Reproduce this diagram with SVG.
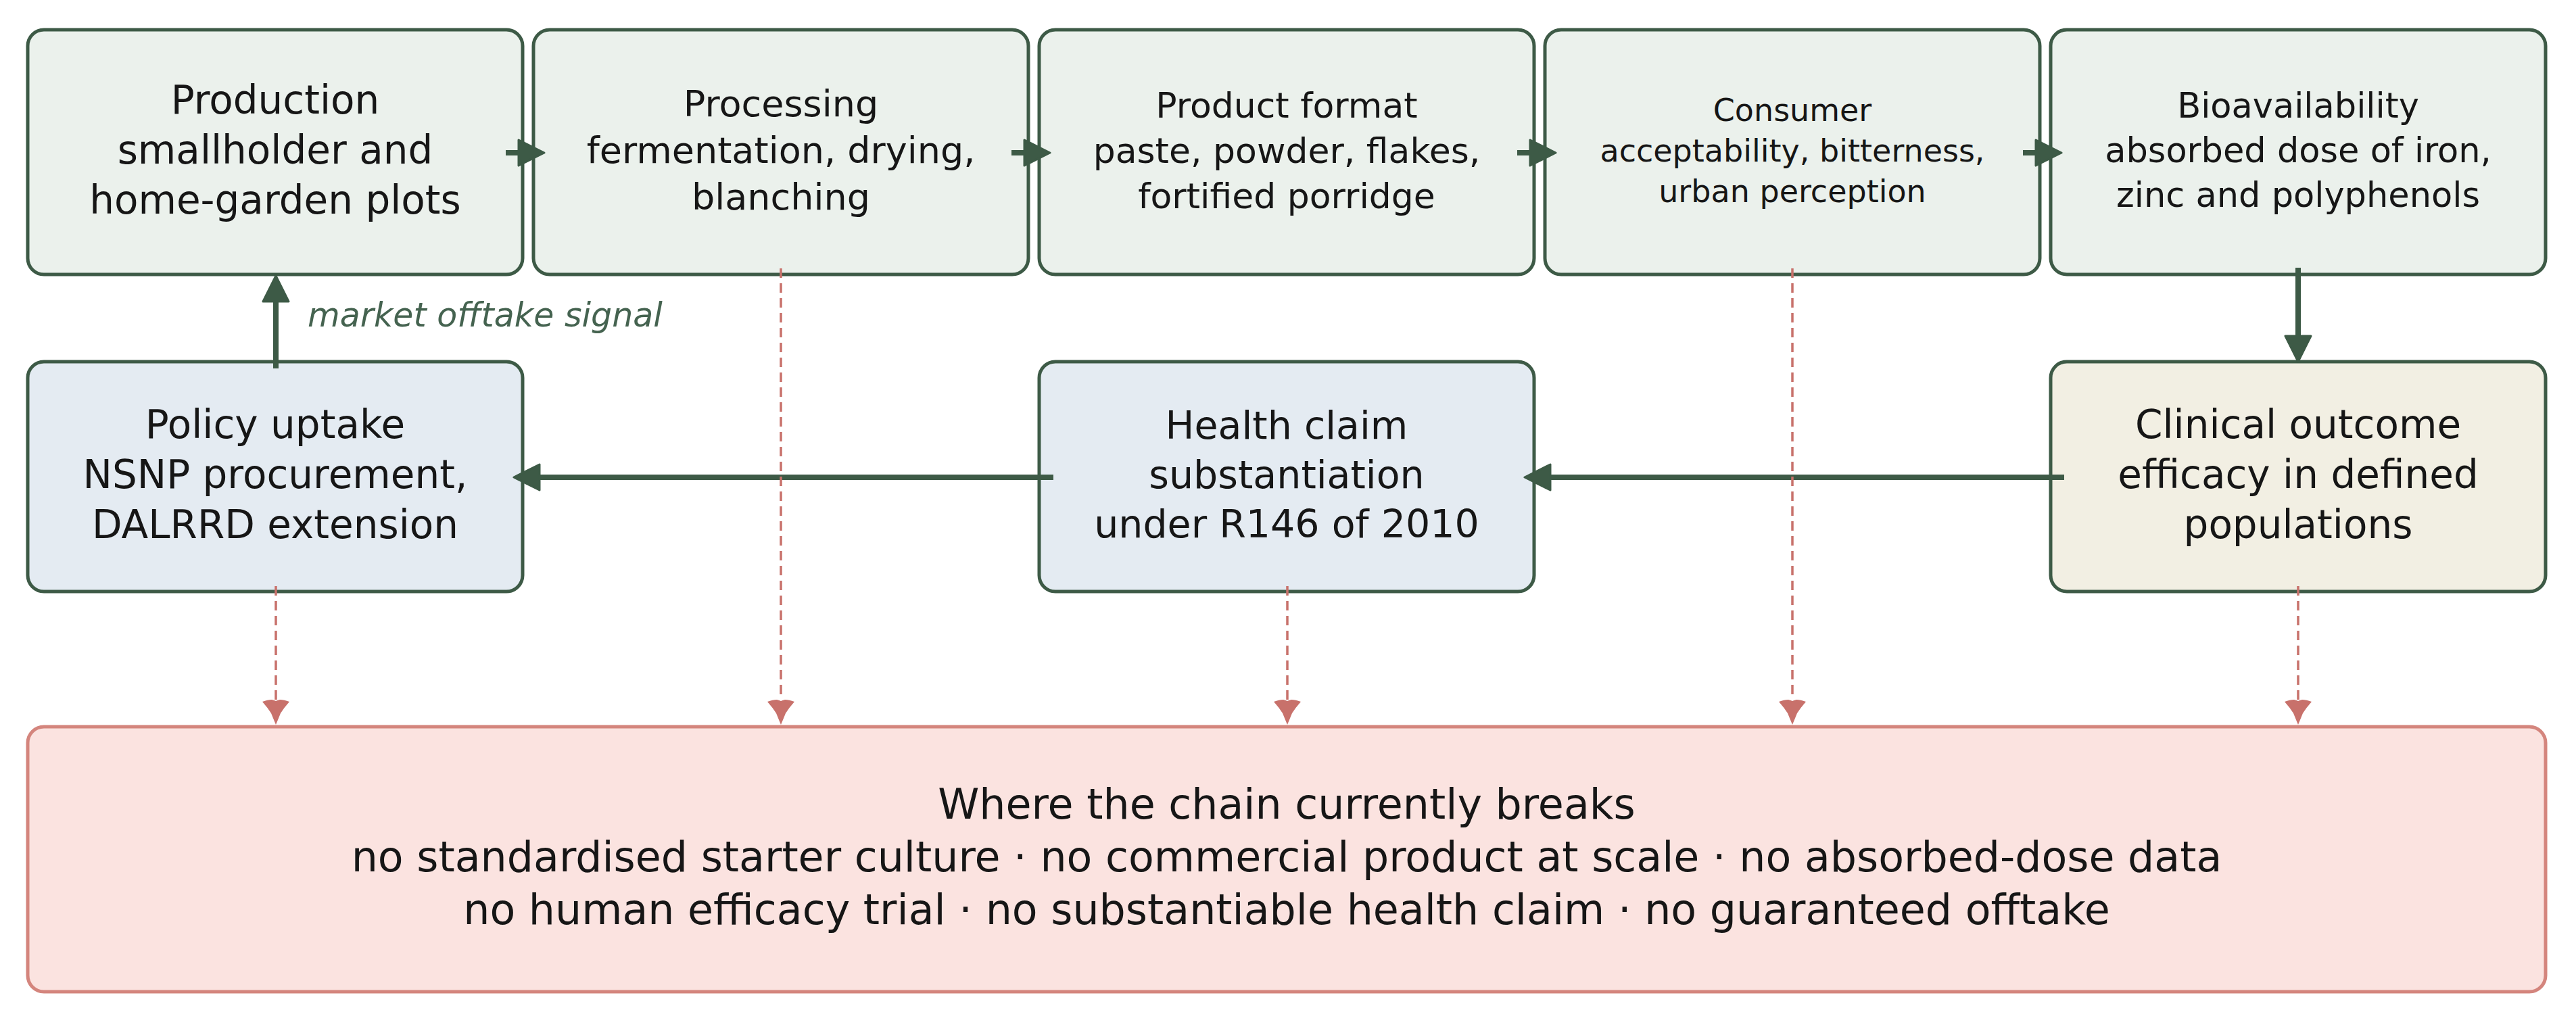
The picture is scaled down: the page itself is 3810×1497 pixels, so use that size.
<svg xmlns="http://www.w3.org/2000/svg" width="3810" height="1497" viewBox="0 0 3810 1497">
<style>
text{font-family:"DejaVu Sans","Liberation Sans",sans-serif;fill:#161616;text-anchor:middle}
.stage{fill:#EBF1EC;stroke:#3D5A46;stroke-width:5}
.policy{fill:#E4EBF2;stroke:#3D5A46;stroke-width:5}
.clin{fill:#F2EFE3;stroke:#3D5A46;stroke-width:5}
.gap{fill:#FBE3E0;stroke:#D4857D;stroke-width:5}
.flow{fill:none;stroke:#3D5A46;stroke-width:8;marker-end:url(#ga)}
.brk{fill:none;stroke:#C8716B;stroke-width:3.5;stroke-dasharray:14 8;marker-end:url(#ra)}
.lbl{font-style:italic;fill:#456350;text-anchor:start;font-size:49px}
</style>
<defs>
<marker id="ga" markerUnits="userSpaceOnUse" viewBox="0 -22 44 44" markerWidth="44" markerHeight="44" refX="2" refY="0" orient="auto" overflow="visible">
<path d="M2,-19 L40,0 L2,19 Z" fill="#3D5A46" stroke="#3D5A46" stroke-width="3" stroke-linejoin="round"/>
</marker>
<marker id="ra" markerUnits="userSpaceOnUse" viewBox="-2 -22 42 44" markerWidth="42" markerHeight="44" refX="0" refY="0" orient="auto" overflow="visible">
<path d="M3,-20 Q12,-12 20,-7 Q30,-3 37,0 Q30,3 20,7 Q12,12 3,20 Q0,12 0,6 Q1,2 2,0 Q1,-2 0,-6 Q0,-12 3,-20 Z" fill="#C8716B"/>
</marker>
</defs>
<rect width="3810" height="1497" fill="#ffffff"/>

<g id="production">
<rect class="stage" x="41" y="44" width="732" height="362" rx="24"/>
<text font-size="58"><tspan x="407" y="168">Production</tspan><tspan x="407" y="242">smallholder and</tspan><tspan x="407" y="316">home-garden plots</tspan></text>
</g>
<g id="processing">
<rect class="stage" x="789" y="44" width="732" height="362" rx="24"/>
<text font-size="54"><tspan x="1155" y="172">Processing</tspan><tspan x="1155" y="241">fermentation, drying,</tspan><tspan x="1155" y="310">blanching</tspan></text>
</g>
<g id="format">
<rect class="stage" x="1537" y="44" width="732" height="362" rx="24"/>
<text font-size="52"><tspan x="1903" y="174">Product format</tspan><tspan x="1903" y="241">paste, powder, flakes,</tspan><tspan x="1903" y="308">fortified porridge</tspan></text>
</g>
<g id="consumer">
<rect class="stage" x="2285" y="44" width="732" height="362" rx="24"/>
<text font-size="46"><tspan x="2651" y="179">Consumer</tspan><tspan x="2651" y="239">acceptability, bitterness,</tspan><tspan x="2651" y="299">urban perception</tspan></text>
</g>
<g id="bioavailability">
<rect class="stage" x="3033" y="44" width="732" height="362" rx="24"/>
<text font-size="51"><tspan x="3399" y="174">Bioavailability</tspan><tspan x="3399" y="240">absorbed dose of iron,</tspan><tspan x="3399" y="306">zinc and polyphenols</tspan></text>
</g>
<g id="policy">
<rect class="policy" x="41" y="535" width="732" height="340" rx="24"/>
<text font-size="58"><tspan x="407" y="648">Policy uptake</tspan><tspan x="407" y="722">NSNP procurement,</tspan><tspan x="407" y="796">DALRRD extension</tspan></text>
</g>
<g id="health-claim">
<rect class="policy" x="1537" y="535" width="732" height="340" rx="24"/>
<text font-size="57"><tspan x="1903" y="649">Health claim</tspan><tspan x="1903" y="722">substantiation</tspan><tspan x="1903" y="795">under R146 of 2010</tspan></text>
</g>
<g id="clinical">
<rect class="clin" x="3033" y="535" width="732" height="340" rx="24"/>
<text font-size="58"><tspan x="3399" y="648">Clinical outcome</tspan><tspan x="3399" y="722">efficacy in defined</tspan><tspan x="3399" y="796">populations</tspan></text>
</g>
<g id="breaks">
<rect class="gap" x="41" y="1075" width="3724" height="392" rx="24"/>
<text font-size="61.8"><tspan x="1903" y="1211">Where the chain currently breaks</tspan><tspan x="1903" y="1289">no standardised starter culture · no commercial product at scale · no absorbed-dose data</tspan><tspan x="1903" y="1367">no human efficacy trial · no substantiable health claim · no guaranteed offtake</tspan></text>
</g>

<g id="connectors">
<path class="flow" d="M748,226 H767"/>
<path class="flow" d="M1496,226 H1515"/>
<path class="flow" d="M2244,226 H2263"/>
<path class="flow" d="M2992,226 H3011"/>
<path class="flow" d="M3399,396 V497"/>
<path class="flow" d="M3053,706 H2293"/>
<path class="flow" d="M1558,706 H798"/>
<path class="flow" d="M408,545 V446"/>
<text class="lbl" x="455" y="483">market offtake signal</text>
<path class="brk" d="M408,867 V1035"/>
<path class="brk" d="M1155,397 V1035"/>
<path class="brk" d="M1904,867 V1035"/>
<path class="brk" d="M2651,397 V1035"/>
<path class="brk" d="M3399,867 V1035"/>
</g>
</svg>
